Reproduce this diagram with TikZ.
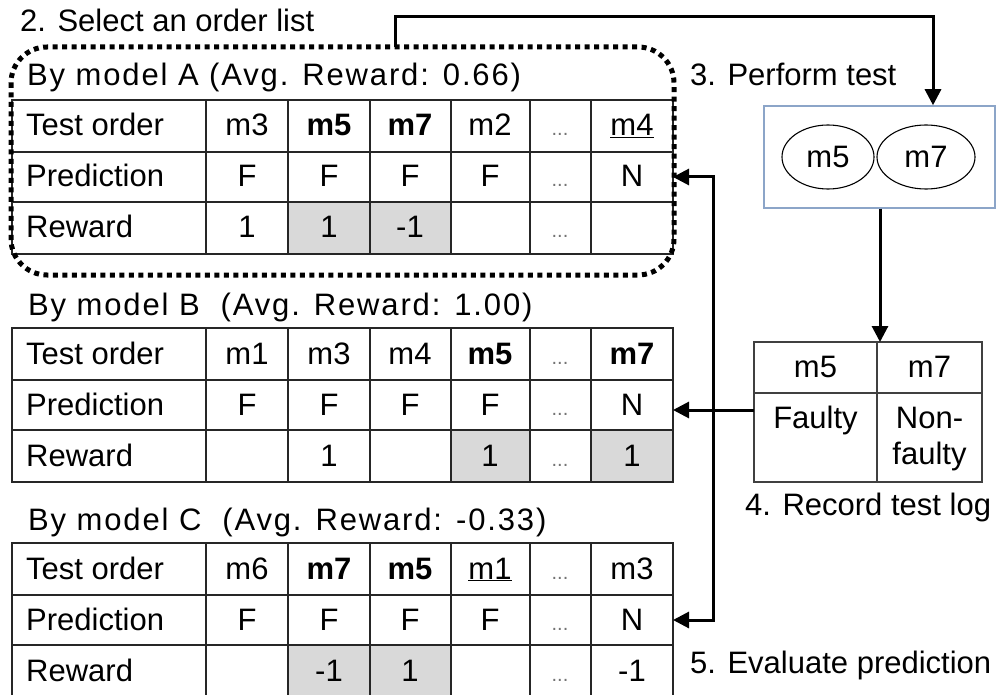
\documentclass[tikz,border=0pt]{standalone}
\usepackage{fontspec}
\setmainfont{Liberation Sans}
\usetikzlibrary{arrows.meta,shapes.geometric}

\newcommand\celldots{{\color{black!55}\fontsize{20}{20}\selectfont...}}
\newcommand\titlefont{\addfontfeatures{LetterSpace=6}}

\tikzset{
  every node/.style={font=\fontsize{31}{36}\selectfont, inner sep=0pt},
  cell/.style={anchor=base},
  lab/.style={anchor=base west},
  gridline/.style={line width=1.6pt, draw=black!85},
  shade/.style={fill=black!15},
  dotbox/.style={line width=5pt, dash pattern=on 5pt off 4.5pt, rounded corners=36pt},
  conn/.style={line width=3pt, -{Triangle[length=16pt,width=16pt]}},
  connboth/.style={line width=3pt, {Triangle[length=16pt,width=16pt]}-{Triangle[length=16pt,width=16pt]}},
  testbox/.style={draw={rgb,255:red,140;green,165;blue,200}, line width=1.5pt, minimum width=231pt, minimum height=102pt},
  module/.style={ellipse, draw, line width=1.1pt, minimum height=64pt},
}

\begin{document}
\begin{tikzpicture}[x=1pt, y=-1pt]
\useasboundingbox (0,0) rectangle (996,695);

% ---------------- table A ----------------
\fill[shade] (288,202) rectangle (451,254);
\draw[gridline] (12,100) rectangle (673,254);
\draw[gridline] (12,152) -- (673,152) (12,202) -- (673,202);
\foreach \x in {206,288,370,451,530,591} \draw[gridline] (\x,100) -- (\x,254);
\node[lab] (A-title) at (27,86) {\titlefont By model A (Avg. Reward: 0.66)};
\node[lab] (A-h1) at (26,136) {Test order};
\node[lab] (A-h2) at (26,187) {Prediction};
\node[lab] (A-h3) at (26,238) {Reward};
\foreach \x/\t [count=\i] in {247/m3, 329/{\textbf{m5}}, 410/{\textbf{m7}}, 490/m2, 560/\celldots, 632/{\underline{m4}}}
  \node[cell] (A-o\i) at (\x,136) {\t};
\foreach \x/\t [count=\i] in {247/F, 329/F, 410/F, 490/F, 560/\celldots, 632/N}
  \node[cell] (A-p\i) at (\x,187) {\t};
\foreach \x/\t [count=\i] in {247/1, 329/1, 410/-1, 560/\celldots}
  \node[cell] (A-r\i) at (\x,238) {\t};

% selection frame around model A
\draw[dotbox] (11,47) rectangle (674,275);

% ---------------- table B ----------------
\fill[shade] (451,430) rectangle (530,482) (591,430) rectangle (673,482);
\draw[gridline] (12,328) rectangle (673,482);
\draw[gridline] (12,380) -- (673,380) (12,430) -- (673,430);
\foreach \x in {206,288,370,451,530,591} \draw[gridline] (\x,328) -- (\x,482);
\node[lab] (B-title) at (28,315) {\titlefont By model B\ \ (Avg. Reward: 1.00)};
\node[lab] (B-h1) at (26,364) {Test order};
\node[lab] (B-h2) at (26,415) {Prediction};
\node[lab] (B-h3) at (26,466) {Reward};
\foreach \x/\t [count=\i] in {247/m1, 329/m3, 410/m4, 490/{\textbf{m5}}, 560/\celldots, 632/{\textbf{m7}}}
  \node[cell] (B-o\i) at (\x,364) {\t};
\foreach \x/\t [count=\i] in {247/F, 329/F, 410/F, 490/F, 560/\celldots, 632/N}
  \node[cell] (B-p\i) at (\x,415) {\t};
\foreach \x/\t [count=\i] in {329/1, 490/1, 560/\celldots, 632/1}
  \node[cell] (B-r\i) at (\x,466) {\t};

% ---------------- table C ----------------
\fill[shade] (288,645) rectangle (451,698);
\draw[gridline] (12,543) rectangle (673,698);
\draw[gridline] (12,595) -- (673,595) (12,645) -- (673,645);
\foreach \x in {206,288,370,451,530,591} \draw[gridline] (\x,543) -- (\x,698);
\node[lab] (C-title) at (28,530) {\titlefont By model C\ \ (Avg. Reward: -0.33)};
\node[lab] (C-h1) at (26,579) {Test order};
\node[lab] (C-h2) at (26,630) {Prediction};
\node[lab] (C-h3) at (26,681) {Reward};
\foreach \x/\t [count=\i] in {247/m6, 329/{\textbf{m7}}, 410/{\textbf{m5}}, 490/{\underline{m1}}, 560/\celldots, 632/m3}
  \node[cell] (C-o\i) at (\x,579) {\t};
\foreach \x/\t [count=\i] in {247/F, 329/F, 410/F, 490/F, 560/\celldots, 632/N}
  \node[cell] (C-p\i) at (\x,630) {\t};
\foreach \x/\t [count=\i] in {329/-1, 410/1, 560/\celldots, 632/-1}
  \node[cell] (C-r\i) at (\x,681) {\t};

% ---------------- test execution ----------------
\node[lab] (step2) at (20,32) {2. Select an order list};
\node[lab] (step3) at (690,86) {3. Perform test};
\node[testbox] (test) at (879.5,157) {};
\node[module, minimum width=92pt] (run-m5) at (828,157) {m5};
\node[module, minimum width=98pt] (run-m7) at (926,157) {m7};

% ---------------- test log ----------------
\draw[gridline, draw=black!75] (754,342) rectangle (982,482);
\draw[gridline, draw=black!75] (754,393) -- (982,393) (877,342) -- (877,482);
\node[cell] (log-m5) at (815.5,377) {m5};
\node[cell] (log-m7) at (929.5,377) {m7};
\node[cell] (log-f) at (815.5,428) {Faulty};
\node[cell] (log-n1) at (929.5,428) {Non-};
\node[cell] (log-n2) at (929.5,464) {faulty};
\node[lab] (step4) at (745,515) {4. Record test log};
\node[lab] (step5) at (690,673) {5. Evaluate prediction};

% ---------------- connectors ----------------
\coordinate (sel-top) at (395,47);
\coordinate (route) at (933,17);
\coordinate (log-in) at (880,342);
\coordinate (log-out) at (754,410);
\coordinate (A-in) at (673,177);
\coordinate (B-in) at (673,410);
\coordinate (C-in) at (673,620);
\coordinate (bus-top) at (713,177);
\coordinate (bus-bot) at (713,620);

\draw[conn] (sel-top) |- (route) -- (test.north -| route);
\draw[conn] (test.south -| log-in) -- (log-in);
\draw[conn] (log-out) -- (B-in);
\draw[connboth] (A-in) -- (bus-top) -- (bus-bot) -- (C-in);
\end{tikzpicture}
\end{document}
